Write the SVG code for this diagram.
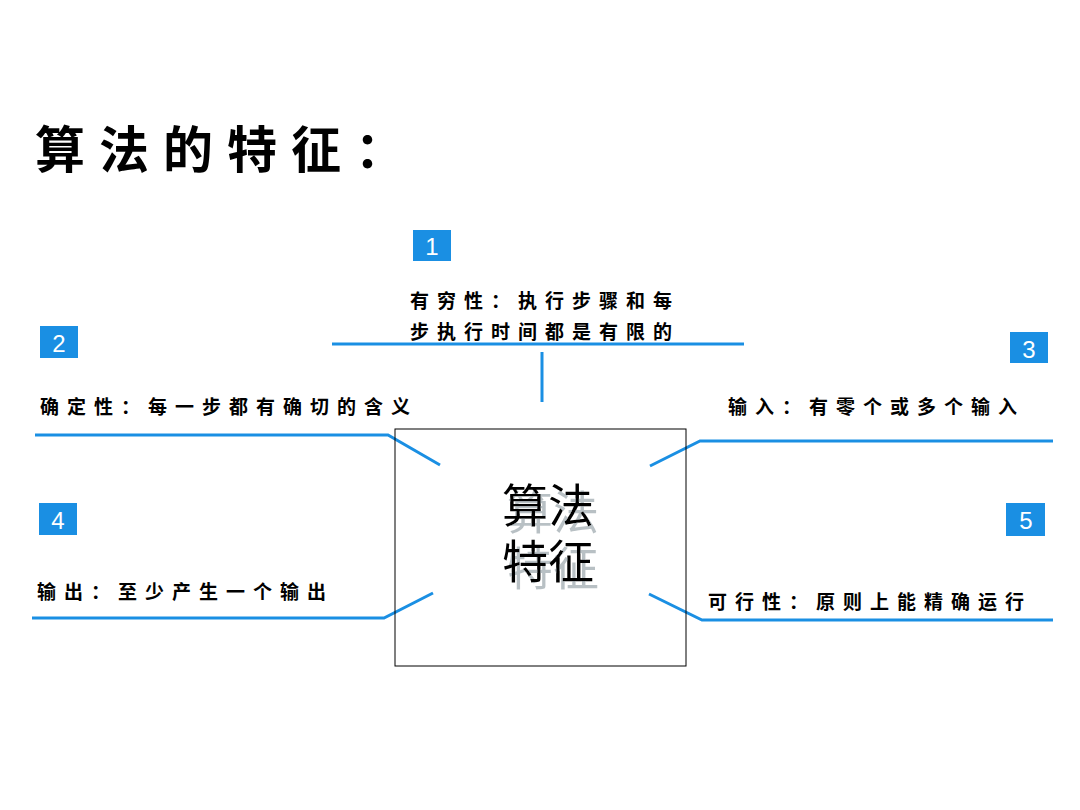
<svg xmlns="http://www.w3.org/2000/svg" width="1080" height="810" viewBox="0 0 1080 810">
<defs>
<filter id="shadow" x="-20%" y="-20%" width="140%" height="140%">
<feOffset in="SourceAlpha" dx="5" dy="7" result="off"/>
<feFlood flood-color="#b8c0c4"/>
<feComposite in2="off" operator="in" result="sh"/>
<feMerge><feMergeNode in="sh"/><feMergeNode in="SourceGraphic"/></feMerge>
</filter>
</defs>
<style>
.lbl{font-family:"Noto Sans CJK SC","Noto Sans",sans-serif;font-size:19px;font-weight:bold;fill:#000;letter-spacing:8px}
.num{font-family:"Liberation Sans",Arial,sans-serif;font-size:24px;fill:#fff;text-anchor:middle}
.badge{fill:#1a8fe3}
.ln{stroke:#1a8fe3;stroke-width:3;fill:none}
.big{font-family:"Noto Sans CJK SC",serif;font-size:46px;text-anchor:middle}
</style>
<rect width="1080" height="810" fill="#fff"/>
<text x="35" y="168" font-family="'Noto Sans CJK SC',sans-serif" font-size="50" font-weight="bold" letter-spacing="14">算法的特征：</text>
<g id="connectors">
<line class="ln" x1="332" y1="344" x2="744" y2="344"/>
<line class="ln" x1="542" y1="352" x2="542" y2="402"/>
<polyline class="ln" points="35,435 388,435 440,465"/>
<polyline class="ln" points="1053,441 700,441 650,466"/>
<polyline class="ln" points="32,618 384,618 433,593"/>
<polyline class="ln" points="1053,620 702,620 649,594"/>
</g>
<g id="center">
<rect x="395" y="429" width="291" height="237" fill="none" stroke="#000" stroke-width="1"/>
<text class="big" x="548" y="522" filter="url(#shadow)"><tspan x="548" y="522">算法</tspan><tspan x="548" y="578">特征</tspan></text>
</g>
<g id="node1">
<rect class="badge" x="413" y="230" width="38" height="31"/>
<text class="num" x="432" y="255">1</text>
<text class="lbl" x="410" y="308">有穷性：执行步骤和每</text>
<text class="lbl" x="410" y="339">步执行时间都是有限的</text>
</g>
<g id="node2">
<rect class="badge" x="40" y="326" width="38" height="32"/>
<text class="num" x="59" y="352">2</text>
<text class="lbl" x="40" y="414">确定性：每一步都有确切的含义</text>
</g>
<g id="node3">
<rect class="badge" x="1010" y="332" width="38" height="31"/>
<text class="num" x="1029" y="358">3</text>
<text class="lbl" x="728" y="414">输入：有零个或多个输入</text>
</g>
<g id="node4">
<rect class="badge" x="39" y="503" width="38" height="32"/>
<text class="num" x="58" y="529">4</text>
<text class="lbl" x="37" y="599">输出：至少产生一个输出</text>
</g>
<g id="node5">
<rect class="badge" x="1006" y="503" width="39" height="33"/>
<text class="num" x="1026" y="529">5</text>
<text class="lbl" x="708" y="609">可行性：原则上能精确运行</text>
</g>
</svg>
